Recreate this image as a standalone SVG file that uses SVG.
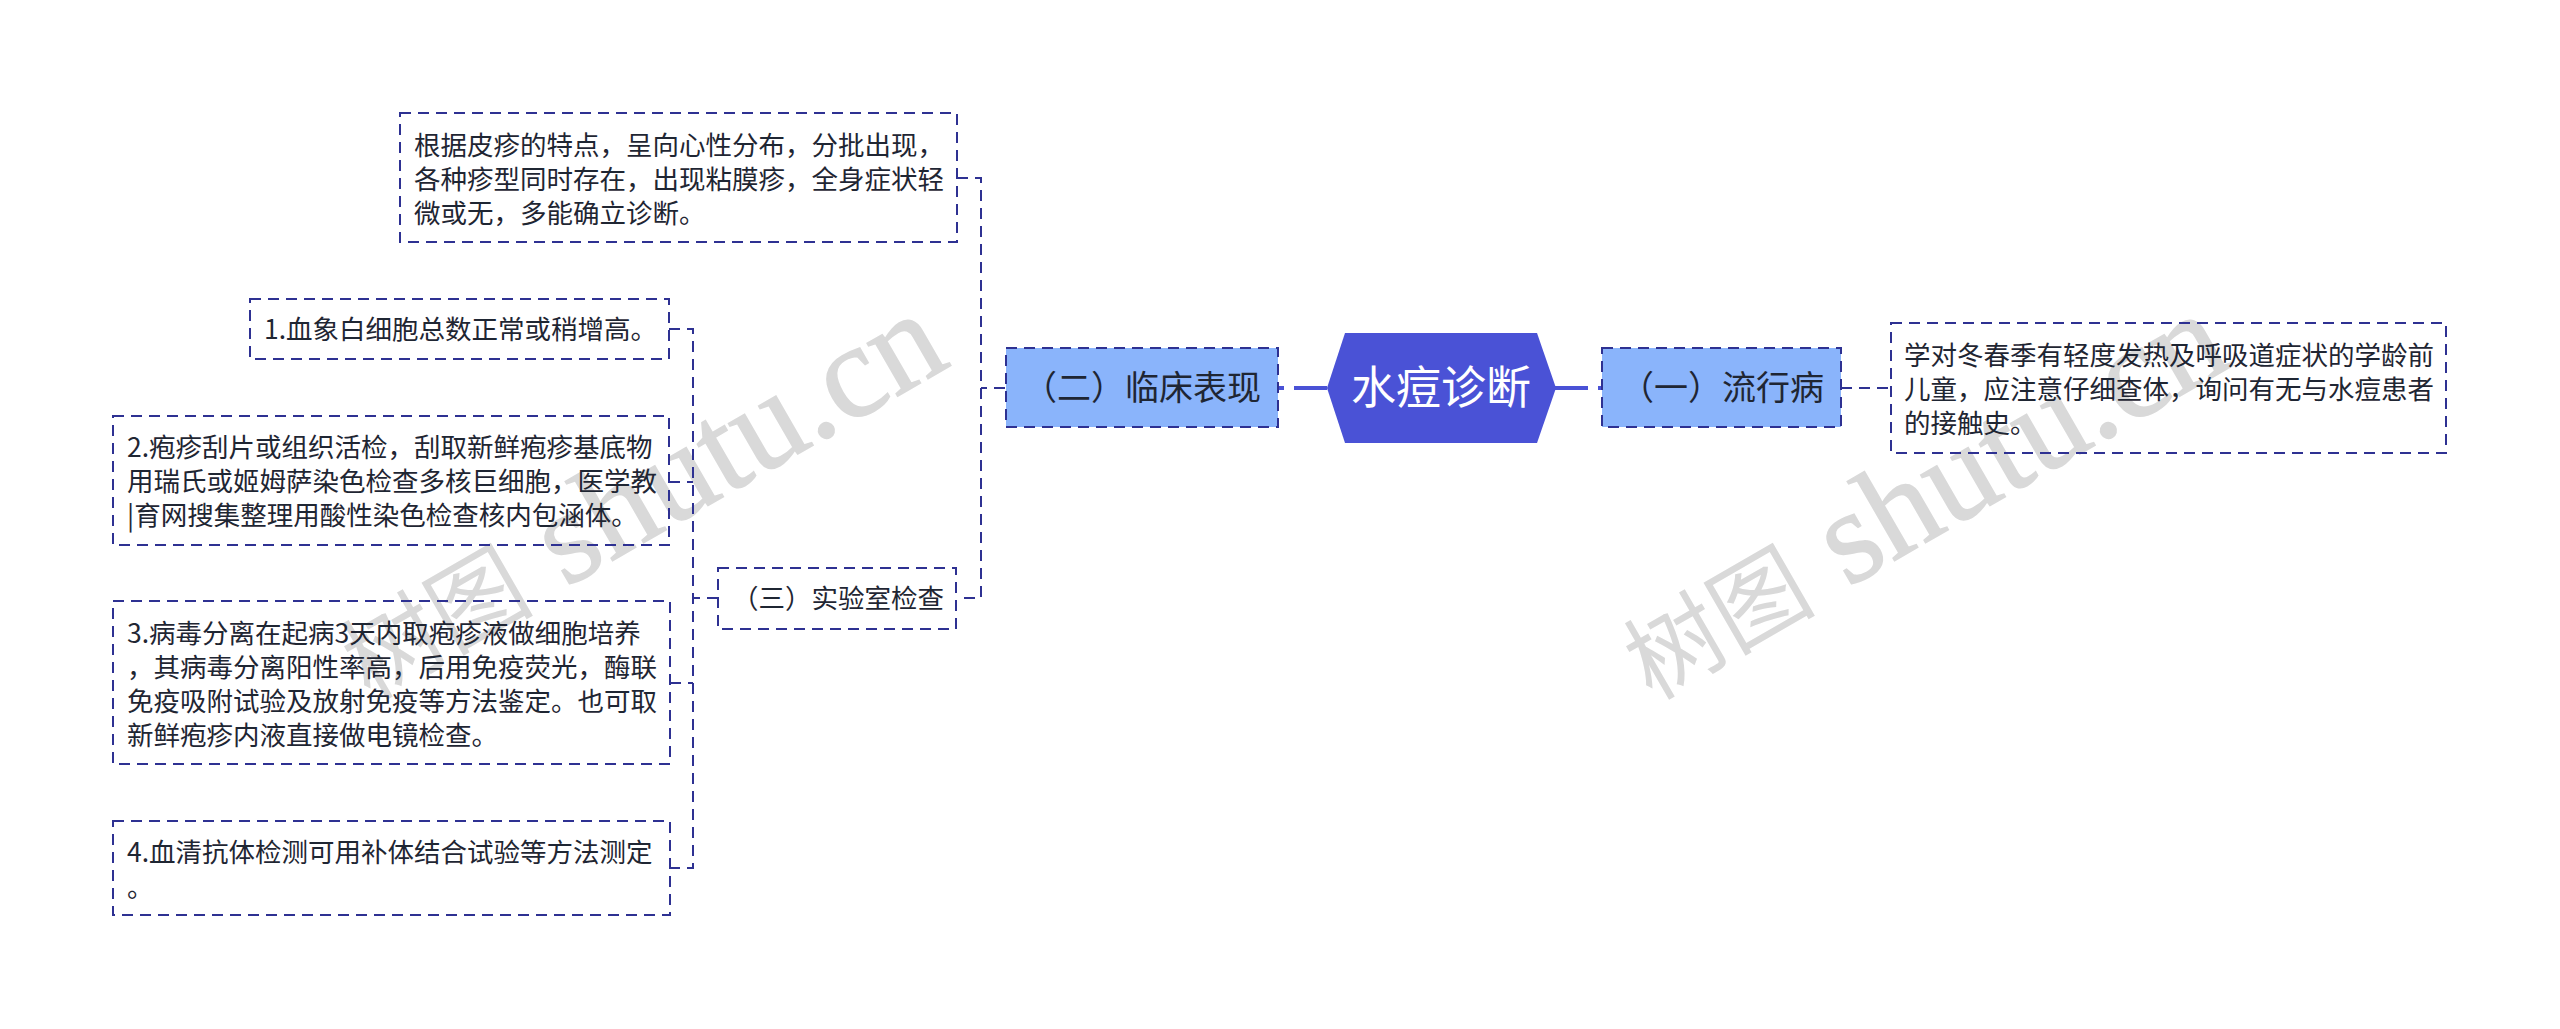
<svg xmlns="http://www.w3.org/2000/svg" width="2560" height="1029" viewBox="0 0 2560 1029">
<style>
text{font-family:"Noto Sans CJK SC","Liberation Sans",sans-serif;fill:#1f2633}
.t{font-size:26.5px}
.n{font-size:34px}
.r{font-size:45px;fill:#fff}
.leaf{fill:none;stroke:#2e3192;stroke-width:2;stroke-dasharray:11 7}
.mid{fill:#8ab4fb;stroke:#2e3192;stroke-width:2;stroke-dasharray:11 7}
.c{fill:none;stroke:#2e3192;stroke-width:2;stroke-dasharray:11 7}
.c0{fill:none;stroke:#4a52d6;stroke-width:4;stroke-dasharray:33 10}
text.wc{font-size:96px;fill:#d9d9d9}
text.wl{font-family:"Liberation Serif",serif;font-size:133px;fill:#d9d9d9;stroke:#d9d9d9;stroke-width:1.5}
</style>
<rect width="2560" height="1029" fill="#fff"/>
<g id="watermarks">
<g transform="translate(369.7 701) rotate(-30)"><text class="wc">树图</text><text class="wl" x="226">shutu.cn</text></g>
<g transform="translate(1651.7 701) rotate(-30)"><text class="wc">树图</text><text class="wl" x="226">shutu.cn</text></g>
</g>
<g id="connectors">
<path class="c0" d="M1327 388H1278"/>
<path class="c0" d="M1555 388H1602"/>
<path class="c" d="M1005 388H981"/>
<path class="c" d="M957 178H981V598H957"/>
<path class="c" d="M718 598H694"/>
<path class="c" d="M669 329H693V868H670"/>
<path class="c" d="M669 482H693"/>
<path class="c" d="M670 683H693"/>
<path class="c" d="M1841 388H1891"/>
</g>
<g id="root"><polygon points="1327,388 1345,333 1537,333 1556,388 1537,443 1345,443" fill="#4a52d6"/><text class="r" x="1351" y="404">水痘诊断</text></g>
<g id="n2"><rect class="mid" x="1006" y="348" width="272" height="79"/><text class="n" x="1023" y="400">（二）临床表现</text></g>
<g id="n1"><rect class="mid" x="1602" y="348" width="239" height="79"/><text class="n" x="1620" y="400">（一）流行病</text></g>
<g id="n1a"><rect class="leaf" x="1891" y="323" width="555" height="130"/><text class="t"><tspan x="1904" y="365">学对冬春季有轻度发热及呼吸道症状的学龄前</tspan><tspan x="1904" y="399">儿童，应注意仔细查体，询问有无与水痘患者</tspan><tspan x="1904" y="433">的接触史。</tspan></text></g>
<g id="n2a"><rect class="leaf" x="400" y="113" width="557" height="129"/><text class="t"><tspan x="414" y="155">根据皮疹的特点，呈向心性分布，分批出现，</tspan><tspan x="414" y="189">各种疹型同时存在，出现粘膜疹，全身症状轻</tspan><tspan x="414" y="223">微或无，多能确立诊断。</tspan></text></g>
<g id="n3"><rect class="leaf" x="718" y="568" width="238" height="61"/><text class="t" x="732" y="608">（三）实验室检查</text></g>
<g id="l1"><rect class="leaf" x="250" y="299" width="419" height="60"/><text class="t" x="264" y="339">1.血象白细胞总数正常或稍增高。</text></g>
<g id="l2"><rect class="leaf" x="113" y="416" width="556" height="129"/><text class="t"><tspan x="127" y="457">2.疱疹刮片或组织活检，刮取新鲜疱疹基底物</tspan><tspan x="127" y="491">用瑞氏或姬姆萨染色检查多核巨细胞，医学教</tspan><tspan x="127" y="525">|育网搜集整理用酸性染色检查核内包涵体。</tspan></text></g>
<g id="l3"><rect class="leaf" x="113" y="601" width="557" height="163"/><text class="t"><tspan x="127" y="643">3.病毒分离在起病3天内取疱疹液做细胞培养</tspan><tspan x="127" y="677">，其病毒分离阳性率高，后用免疫荧光，酶联</tspan><tspan x="127" y="711">免疫吸附试验及放射免疫等方法鉴定。也可取</tspan><tspan x="127" y="745">新鲜疱疹内液直接做电镜检查。</tspan></text></g>
<g id="l4"><rect class="leaf" x="113" y="821" width="557" height="94"/><text class="t"><tspan x="127" y="862">4.血清抗体检测可用补体结合试验等方法测定</tspan><tspan x="127" y="897">。</tspan></text></g>
</svg>
